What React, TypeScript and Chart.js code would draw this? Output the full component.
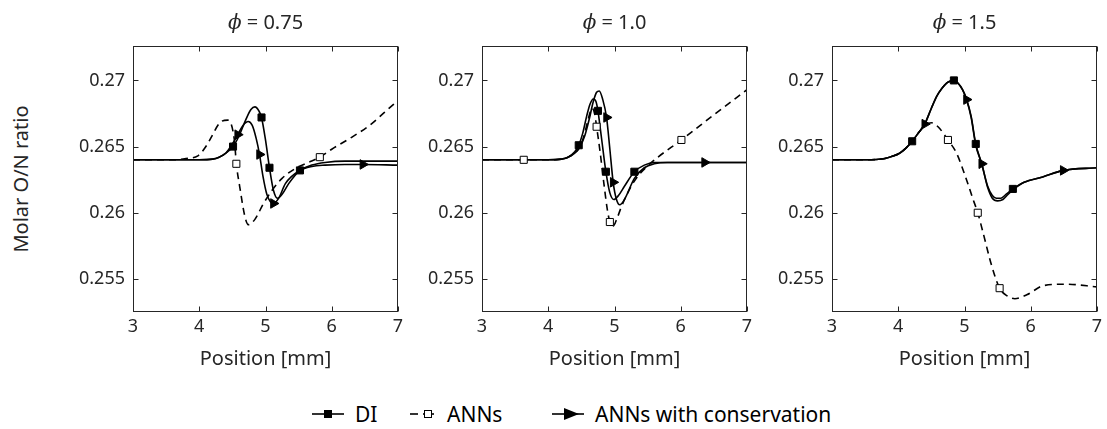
import React, { useEffect, useRef } from "react";
import { Chart, registerables } from "chart.js";
Chart.register(...registerables);

// ---------------- data ----------------
const xTicks = [3, 4, 5, 6, 7];
const yTicks = [0.255, 0.26, 0.265, 0.27];
const yTickLabels = ["0.255", "0.26", "0.265", "0.27"];
const phiValues = ["0.75", "1.0", "1.5"];
const legendLabels = ["DI", "ANNs", "ANNs with conservation"];
const xAxisTitle = "Position [mm]";
const yAxisTitle = "Molar O/N ratio";

// Panel 1 (phi = 0.75)
const p1DiX = [3, 3.5, 4.0, 4.2, 4.3, 4.4, 4.51, 4.6, 4.7, 4.78, 4.84, 4.9, 4.94, 5.0, 5.06, 5.12, 5.18, 5.25, 5.35, 5.52, 5.7, 5.9, 6.2, 6.6, 7];
const p1DiY = [0.264, 0.264, 0.264, 0.26405, 0.2642, 0.2645, 0.265, 0.2658, 0.267, 0.2678, 0.268, 0.2677, 0.2672, 0.2655, 0.2634, 0.2617, 0.2611, 0.2614, 0.2622, 0.2632, 0.2636, 0.2638, 0.2639, 0.2639, 0.2639];
const p1DiMarks = [4.51, 4.94, 5.06, 5.52];
const p1AncX = [3, 3.5, 4.0, 4.2, 4.3, 4.4, 4.5, 4.58, 4.66, 4.74, 4.8, 4.86, 4.91, 4.96, 5.02, 5.12, 5.2, 5.3, 5.52, 5.7, 5.9, 6.2, 6.47, 7];
const p1AncY = [0.264, 0.264, 0.264, 0.26405, 0.2642, 0.2645, 0.2652, 0.2659, 0.2666, 0.2669, 0.2666, 0.2656, 0.2644, 0.2628, 0.2614, 0.2607, 0.2611, 0.2622, 0.2632, 0.2635, 0.2636, 0.26365, 0.26365, 0.2636];
const p1AncMarks = [4.58, 4.91, 5.12, 6.47];
const p1AnnX = [3, 3.6, 3.8, 3.98, 4.1, 4.18, 4.31, 4.43, 4.53, 4.56, 4.61, 4.69, 4.74, 4.84, 4.97, 5.1, 5.25, 5.47, 5.65, 5.82, 6.0, 6.3, 6.57, 6.8, 7];
const p1AnnY = [0.264, 0.264, 0.2641, 0.2643, 0.265, 0.2657, 0.2668, 0.267, 0.2655, 0.2637, 0.262, 0.2597, 0.2591, 0.2595, 0.2607, 0.2617, 0.2626, 0.2634, 0.2638, 0.2642, 0.2648, 0.2657, 0.2666, 0.2676, 0.2685];
const p1AnnMarks = [4.56, 5.82];

// Panel 2 (phi = 1.0)
const p2DiX = [3, 3.6, 4.0, 4.2, 4.3, 4.4, 4.46, 4.52, 4.58, 4.63, 4.68, 4.72, 4.75, 4.8, 4.87, 4.93, 4.99, 5.06, 5.15, 5.3, 5.45, 5.6, 5.8, 6.2, 7];
const p2DiY = [0.264, 0.264, 0.264, 0.26405, 0.2642, 0.2646, 0.2651, 0.266, 0.2673, 0.2682, 0.2686, 0.2684, 0.2677, 0.2658, 0.2631, 0.2615, 0.261, 0.2613, 0.262, 0.2631, 0.2636, 0.2638, 0.2638, 0.2638, 0.2638];
const p2DiMarks = [4.46, 4.75, 4.87, 5.3];
const p2AncX = [3, 3.6, 4.0, 4.2, 4.3, 4.4, 4.48, 4.55, 4.62, 4.68, 4.73, 4.77, 4.82, 4.88, 4.93, 4.98, 5.03, 5.08, 5.15, 5.3, 5.45, 5.6, 5.8, 6.36, 7];
const p2AncY = [0.264, 0.264, 0.264, 0.26405, 0.2642, 0.2645, 0.265, 0.2658, 0.2671, 0.2684, 0.2691, 0.2692, 0.2686, 0.2672, 0.2648, 0.2623, 0.261, 0.2606, 0.261, 0.2626, 0.2634, 0.2637, 0.2638, 0.2638, 0.2638];
const p2AncMarks = [4.88, 4.98, 6.36];
const p2AnnX = [3, 3.63, 4.0, 4.2, 4.3, 4.4, 4.48, 4.55, 4.61, 4.66, 4.7, 4.73, 4.78, 4.84, 4.89, 4.93, 4.98, 5.04, 5.1, 5.18, 5.3, 5.43, 5.63, 6.01, 6.5, 7];
const p2AnnY = [0.264, 0.264, 0.264, 0.26405, 0.2642, 0.2645, 0.265, 0.266, 0.2672, 0.2679, 0.2675, 0.2665, 0.2647, 0.2622, 0.2603, 0.2593, 0.259, 0.2596, 0.2604, 0.2613, 0.2624, 0.2632, 0.2641, 0.2655, 0.2674, 0.2693];
const p2AnnMarks = [3.63, 4.73, 4.93, 6.01];

// Panel 3 (phi = 1.5)
const p3DiX = [3, 3.5, 3.8, 3.9, 4.02, 4.12, 4.21, 4.3, 4.4, 4.5, 4.58, 4.66, 4.73, 4.79, 4.84, 4.9, 4.97, 5.03, 5.1, 5.17, 5.26, 5.35, 5.42, 5.48, 5.55, 5.63, 5.73, 5.9, 6.18, 6.49, 7];
const p3DiY = [0.264, 0.264, 0.2641, 0.26425, 0.2645, 0.2649, 0.2654, 0.266, 0.2667, 0.2679, 0.2688, 0.2694, 0.2698, 0.26995, 0.27, 0.2698, 0.2693, 0.2686, 0.2673, 0.2652, 0.2637, 0.262, 0.2613, 0.2611, 0.2611, 0.2614, 0.2618, 0.2623, 0.2627, 0.2632, 0.2634];
const p3DiMarks = [4.21, 4.84, 5.17, 5.73];
const p3AncX = [3, 3.5, 3.8, 3.9, 4.02, 4.12, 4.21, 4.3, 4.4, 4.5, 4.58, 4.66, 4.73, 4.79, 4.84, 4.9, 4.97, 5.03, 5.1, 5.17, 5.26, 5.35, 5.42, 5.5, 5.58, 5.66, 5.75, 5.9, 6.18, 6.49, 7];
const p3AncY = [0.264, 0.264, 0.2641, 0.26425, 0.2645, 0.2649, 0.2654, 0.266, 0.2667, 0.2679, 0.2688, 0.2694, 0.2698, 0.26995, 0.27, 0.2698, 0.2693, 0.26855, 0.2672, 0.2651, 0.2637, 0.2619, 0.2611, 0.2609, 0.261, 0.2614, 0.2618, 0.2623, 0.2627, 0.2632, 0.2634];
const p3AncMarks = [4.4, 5.03, 5.26, 6.49];
const p3AnnX = [3, 3.5, 3.8, 3.9, 4.02, 4.12, 4.21, 4.3, 4.4, 4.5, 4.6, 4.75, 4.88, 5.03, 5.13, 5.2, 5.28, 5.41, 5.53, 5.65, 5.76, 5.94, 6.2, 6.54, 7];
const p3AnnY = [0.264, 0.264, 0.2641, 0.26425, 0.2645, 0.2649, 0.2654, 0.266, 0.2666, 0.2668, 0.2665, 0.2655, 0.2645, 0.2625, 0.261, 0.26, 0.2585, 0.256, 0.2543, 0.2537, 0.2535, 0.2538, 0.2545, 0.2546, 0.2544];
const p3AnnMarks = [4.75, 5.2, 5.53];

const panels = [
  { phi: phiValues[0], di: [p1DiX, p1DiY, p1DiMarks], anc: [p1AncX, p1AncY, p1AncMarks], ann: [p1AnnX, p1AnnY, p1AnnMarks] },
  { phi: phiValues[1], di: [p2DiX, p2DiY, p2DiMarks], anc: [p2AncX, p2AncY, p2AncMarks], ann: [p2AnnX, p2AnnY, p2AnnMarks] },
  { phi: phiValues[2], di: [p3DiX, p3DiY, p3DiMarks], anc: [p3AncX, p3AncY, p3AncMarks], ann: [p3AnnX, p3AnnY, p3AnnMarks] },
];

// ---------------- layout / style ----------------
const FONT = "'Noto Sans', sans-serif";
const TEXT = "#262626";
const PLOT_LEFTS = [133, 482, 832];
const PLOT_W = 265;
const PLOT_TOP = 46;
const PLOT_BOTTOM = 312;
const Y_AXIS_W = 80;
const PAD_R = 10;
const CANVAS_W = Y_AXIS_W + PLOT_W + PAD_R;
const CANVAS_H = 380;

const axesPlugin = {
  id: "matlabAxes",
  afterDatasetsDraw(chart: any) {
    const { ctx, chartArea: a, scales } = chart;
    ctx.save();
    ctx.strokeStyle = TEXT;
    ctx.lineWidth = 1;
    const L = Math.round(a.left) + 0.5;
    const R = Math.round(a.right) - 0.5;
    const T = Math.round(a.top) + 0.5;
    const B = Math.round(a.bottom) - 0.5;
    ctx.strokeRect(L, T, R - L, B - T);
    const len = 5;
    ctx.beginPath();
    for (const t of scales.x.ticks) {
      const px = Math.round(scales.x.getPixelForValue(t.value)) + 0.5;
      ctx.moveTo(px, B); ctx.lineTo(px, B - len);
      ctx.moveTo(px, T); ctx.lineTo(px, T + len);
    }
    for (const t of scales.y.ticks) {
      const py = Math.round(scales.y.getPixelForValue(t.value)) + 0.5;
      ctx.moveTo(L, py); ctx.lineTo(L + len, py);
      ctx.moveTo(R, py); ctx.lineTo(R - len, py);
    }
    ctx.stroke();
    ctx.restore();
  },
};

function makeDataset(series: any[], kind: "di" | "ann" | "anc") {
  const [xs, ys, marks] = series;
  return {
    data: xs.map((x: number, i: number) => ({ x, y: ys[i] })),
    borderColor: "#000",
    borderWidth: 1.6,
    borderDash: kind === "ann" ? [7, 5] : [],
    cubicInterpolationMode: "monotone",
    fill: false,
    pointRadius: (c: any) => (c.raw && marks.includes(c.raw.x) ? (kind === "anc" ? 5.5 : 5) : 0),
    pointHoverRadius: 0,
    pointStyle: kind === "anc" ? "triangle" : "rect",
    rotation: kind === "anc" ? 90 : 0,
    pointBackgroundColor: kind === "ann" ? "#fff" : "#000",
    pointBorderColor: "#000",
    pointBorderWidth: 1,
  };
}

function makeConfig(idx: number): any {
  const p = panels[idx];
  return {
    type: "line",
    data: {
      datasets: [makeDataset(p.ann, "ann"), makeDataset(p.anc, "anc"), makeDataset(p.di, "di")],
    },
    plugins: [axesPlugin],
    options: {
      animation: false,
      responsive: false,
      devicePixelRatio: 1,
      events: [],
      layout: { padding: { top: PLOT_TOP, right: PAD_R, left: 0, bottom: 0 } },
      plugins: { legend: { display: false }, tooltip: { enabled: false }, title: { display: false } },
      scales: {
        x: {
          type: "linear",
          min: xTicks[0],
          max: xTicks[xTicks.length - 1],
          afterBuildTicks: (s: any) => { s.ticks = xTicks.map((v) => ({ value: v })); },
          afterFit: (s: any) => { s.height = CANVAS_H - PLOT_BOTTOM; },
          grid: { display: false, drawTicks: false },
          border: { display: false },
          ticks: { color: TEXT, font: { family: FONT, size: 18 }, padding: 4, maxRotation: 0, callback: (v: any) => String(v) },
          title: { display: true, text: xAxisTitle, color: TEXT, font: { family: FONT, size: 20 }, padding: { top: 0, bottom: 9 } },
        },
        y: {
          type: "linear",
          min: 0.2525,
          max: 0.2726,
          afterBuildTicks: (s: any) => { s.ticks = yTicks.map((v) => ({ value: v })); },
          afterFit: (s: any) => { s.width = Y_AXIS_W; },
          grid: { display: false, drawTicks: false },
          border: { display: false },
          ticks: {
            color: TEXT,
            font: { family: FONT, size: 18 },
            padding: 8,
            callback: (v: any) => { const i = yTicks.indexOf(v); return i >= 0 ? yTickLabels[i] : ""; },
          },
        },
      },
    },
  };
}

function Panel({ idx }: { idx: number }) {
  const ref = useRef<HTMLCanvasElement>(null);
  useEffect(() => {
    const chart = new Chart(ref.current as HTMLCanvasElement, makeConfig(idx));
    return () => chart.destroy();
  }, [idx]);
  return (
    <canvas
      ref={ref}
      width={CANVAS_W}
      height={CANVAS_H}
      style={{ position: "absolute", left: PLOT_LEFTS[idx] - Y_AXIS_W, top: 0, width: CANVAS_W, height: CANVAS_H }}
    />
  );
}

function LegendIcon({ kind }: { kind: string }) {
  if (kind === "di")
    return (
      <svg width={32} height={14} style={{ display: "block" }}>
        <line x1={0} y1={7} x2={32} y2={7} stroke="#000" strokeWidth={1.6} />
        <rect x={12} y={3} width={8} height={8} fill="#000" />
      </svg>
    );
  if (kind === "ann")
    return (
      <svg width={26} height={14} style={{ display: "block" }}>
        <line x1={0} y1={7} x2={8} y2={7} stroke="#000" strokeWidth={1.6} />
        <line x1={13} y1={7} x2={24} y2={7} stroke="#000" strokeWidth={1.6} />
        <rect x={14.5} y={3.5} width={7} height={7} fill="#fff" stroke="#000" strokeWidth={1} />
      </svg>
    );
  return (
    <svg width={32} height={14} style={{ display: "block" }}>
      <line x1={0} y1={7} x2={32} y2={7} stroke="#000" strokeWidth={1.6} />
      <polygon points="12,1 12,13 27,7" fill="#000" />
    </svg>
  );
}

export default function App() {
  const legendKinds = ["di", "ann", "anc"];
  const legendLefts = [312, 410, 552];
  return (
    <div style={{ position: "absolute", left: 0, top: 0, width: 1107, height: 429, background: "#fff", fontFamily: FONT, color: TEXT }}>
      {panels.map((_, i) => (
        <Panel key={i} idx={i} />
      ))}
      {panels.map((p, i) => (
        <div
          key={"t" + i}
          style={{ position: "absolute", left: PLOT_LEFTS[i], top: 8, width: PLOT_W, textAlign: "center", fontSize: 20, lineHeight: "28px", whiteSpace: "nowrap" }}
        >
          <span style={{ fontStyle: "italic", fontFamily: "'DejaVu Serif', serif" }}>ϕ</span> = {p.phi}
        </div>
      ))}
      <div
        style={{
          position: "absolute",
          left: 21,
          top: 179,
          transform: "translate(-50%, -50%) rotate(-90deg)",
          whiteSpace: "nowrap",
          fontSize: 20,
          lineHeight: "24px",
        }}
      >
        {yAxisTitle}
      </div>
      {legendLabels.map((lab, i) => (
        <div
          key={"l" + i}
          style={{ position: "absolute", left: legendLefts[i], top: 400, height: 28, display: "flex", alignItems: "center", gap: 11, fontSize: 21, whiteSpace: "nowrap", color: "#000" }}
        >
          <LegendIcon kind={legendKinds[i]} />
          <span>{lab}</span>
        </div>
      ))}
    </div>
  );
}
